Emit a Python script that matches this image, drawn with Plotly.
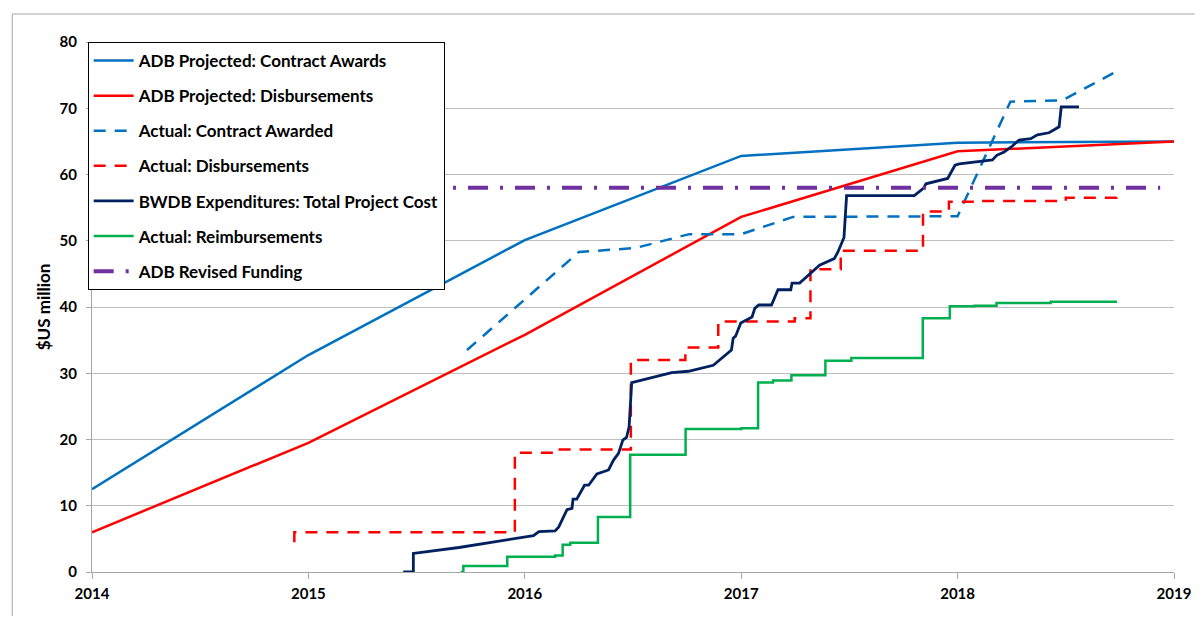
import plotly.graph_objects as go

# ---------------- data ----------------
years_proj = [2014, 2015, 2016, 2017, 2018, 2019]
proj_contract = [12.5, 32.75, 50.1, 62.8, 64.8, 65.0]
proj_disb = [6.0, 19.5, 35.8, 53.6, 63.5, 65.0]

act_contract_x = [2015.733, 2016.25, 2016.51, 2016.76, 2017.0, 2017.24, 2018.0, 2018.244, 2018.484, 2018.737]
act_contract_y = [33.5, 48.3, 48.9, 51.0, 51.0, 53.6, 53.7, 71.0, 71.2, 75.6]

act_disb_x = [2014.935, 2014.935, 2015.954, 2016.14, 2016.49, 2016.742, 2016.894, 2017.247, 2017.32, 2017.32,
              2017.46, 2017.84, 2017.96, 2018.1, 2018.5, 2018.733]
act_disb_y = [4.5, 6.0, 18.0, 18.5, 32.0, 33.9, 37.8, 38.3, 39.1, 45.7,
              48.5, 54.4, 55.9, 56.0, 56.5, 56.6]

bwdb_x = [2015.438, 2015.485, 2015.485, 2015.696, 2016.04, 2016.065, 2016.14, 2016.157, 2016.195, 2016.218,
          2016.223, 2016.24, 2016.276, 2016.295, 2016.333, 2016.387, 2016.41, 2016.433, 2016.453, 2016.47,
          2016.482, 2016.494, 2016.679, 2016.756, 2016.871, 2016.955, 2016.963, 2016.974, 2016.998, 2017.05,
          2017.063, 2017.081, 2017.14, 2017.17, 2017.229, 2017.235, 2017.27, 2017.362, 2017.43, 2017.447,
          2017.475, 2017.487, 2017.8, 2017.842, 2017.854, 2017.954, 2017.988, 2018.008, 2018.161, 2018.181,
          2018.215, 2018.253, 2018.284, 2018.338, 2018.369, 2018.422, 2018.438, 2018.469, 2018.479, 2018.561]
bwdb_y = [0.0, 0.0, 2.8, 3.7, 5.5, 6.1, 6.2, 6.8, 9.4, 9.6,
          11.0, 11.0, 13.1, 13.1, 14.8, 15.4, 16.9, 17.9, 19.9, 20.3,
          21.9, 28.6, 30.1, 30.3, 31.2, 33.5, 35.3, 35.6, 37.6, 38.5,
          39.8, 40.3, 40.3, 42.6, 42.6, 43.6, 43.6, 46.3, 47.3, 48.3,
          50.5, 56.8, 56.8, 57.9, 58.6, 59.4, 61.4, 61.6, 62.2, 62.9,
          63.4, 64.3, 65.2, 65.4, 66.0, 66.3, 66.6, 67.2, 70.2, 70.2]

reimb_x = [2015.704, 2015.716, 2015.919, 2016.14, 2016.175, 2016.21, 2016.338, 2016.487, 2016.743, 2017.001,
           2017.078, 2017.147, 2017.232, 2017.389, 2017.509, 2017.839, 2017.964, 2018.077, 2018.18, 2018.43, 2018.737]
reimb_y = [0.0, 0.9, 2.3, 2.5, 4.1, 4.4, 8.3, 17.7, 21.6, 21.7,
           28.6, 28.9, 29.7, 31.9, 32.3, 38.3, 40.1, 40.2, 40.6, 40.8, 40.8]

revised_x = [2014.0, 2018.936]
revised_y = [58.0, 58.0]

x_ticks = [2014, 2015, 2016, 2017, 2018, 2019]
y_ticks = [0, 10, 20, 30, 40, 50, 60, 70, 80]

# ---------------- figure ----------------
BLUE = "#0070C0"
RED = "#FF0000"
NAVY = "#002060"
GREEN = "#00B050"
PURPLE = "#7030A0"

fig = go.Figure()
fig.add_trace(go.Scatter(x=years_proj, y=proj_contract, mode="lines", name="ADB Projected: Contract Awards",
                         line=dict(color=BLUE, width=2.5), legendgroup="a"))
fig.add_trace(go.Scatter(x=years_proj, y=proj_disb, mode="lines", name="ADB Projected: Disbursements",
                         line=dict(color=RED, width=2.5), legendgroup="b"))
fig.add_trace(go.Scatter(x=act_contract_x, y=act_contract_y, mode="lines", name="Actual: Contract Awarded",
                         line=dict(color=BLUE, width=2.5, dash="12px,9px"), legendgroup="c"))
fig.add_trace(go.Scatter(x=act_disb_x, y=act_disb_y, mode="lines", name="Actual: Disbursements",
                         line=dict(color=RED, width=2.5, dash="12px,9px", shape="hv"), legendgroup="d"))
fig.add_trace(go.Scatter(x=bwdb_x, y=bwdb_y, mode="lines", name="BWDB Expenditures: Total Project Cost",
                         line=dict(color=NAVY, width=2.8), legendgroup="e"))
fig.add_trace(go.Scatter(x=reimb_x, y=reimb_y, mode="lines", name="Actual: Reimbursements",
                         line=dict(color=GREEN, width=2.5, shape="hv"), legendgroup="f"))
fig.add_trace(go.Scatter(x=revised_x, y=revised_y, mode="lines", name="ADB Revised Funding",
                         line=dict(color=PURPLE, width=4, dash="20px,12px,3px,12px"), legendgroup="g"))

FONT = "Lato, 'Open Sans', sans-serif"

# page body has an 8px default margin: keep the figure inside the 1203x624 window
fig.update_layout(
    width=1195, height=608,
    margin=dict(l=84, r=26, t=34, b=44),
    paper_bgcolor="white", plot_bgcolor="white",
    font=dict(family=FONT, size=15, color="black"),
    showlegend=True,
    legend=dict(x=-0.004, y=1.0, xanchor="left", yanchor="top",
                bgcolor="white", bordercolor="black", borderwidth=1,
                font=dict(family=FONT, size=17, color="black", weight="bold"),
                tracegroupgap=10, traceorder="grouped", itemwidth=40),
    xaxis=dict(range=[2014, 2019], tickmode="array", tickvals=x_ticks, ticktext=[str(v) for v in x_ticks],
               showgrid=False, zeroline=False, showline=True, linecolor="#A6A6A6", linewidth=1,
               ticks="outside", ticklen=6, tickcolor="#A6A6A6", ticklabelstandoff=2,
               tickfont=dict(family=FONT, size=15, weight="bold")),
    yaxis=dict(range=[0, 80], tickmode="array", tickvals=y_ticks,
               showgrid=True, gridcolor="#BFBFBF", gridwidth=1, zeroline=False,
               showline=True, linecolor="#A6A6A6", linewidth=1,
               ticks="outside", ticklen=5, tickcolor="#A6A6A6", ticklabelstandoff=6,
               tickfont=dict(family=FONT, size=15, weight="bold")),
    shapes=[dict(type="rect", xref="paper", yref="paper", x0=-0.0737, x1=1.2, y0=-0.3, y1=1.0528,
                 line=dict(color="#A6A6A6", width=1), fillcolor="rgba(0,0,0,0)", layer="below")],
)
fig.update_yaxes(title=dict(text="$US million", font=dict(family=FONT, size=17, weight="bold"), standoff=4))

fig.write_html("out.html")
